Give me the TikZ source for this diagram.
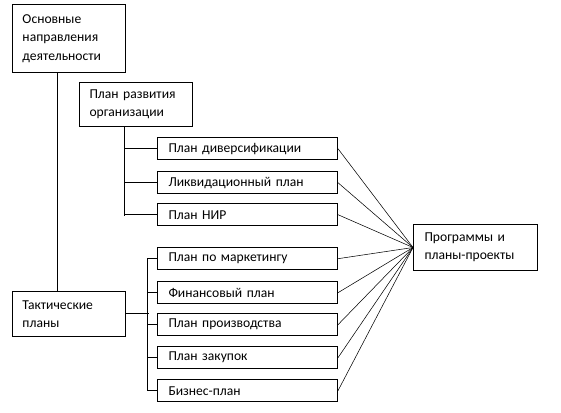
\documentclass[tikz,border=0pt]{standalone}
\usepackage{fontspec}
\setmainfont{Carlito}
\usepackage{tikz}

\tikzset{
	box/.style={draw, align=left, anchor=north west, inner xsep=8.25pt, inner ysep=0pt, font=\fontsize{10.2}{13.8}\selectfont},
	bigbox/.style={box, inner xsep=7.5pt, text width=69.5pt},
	planbox/.style={box, text width=118.5pt, minimum height=16.8pt},
	link/.style={line width=0.4pt}
}

\begin{document}
\begin{tikzpicture}[x=0.75pt,y=-0.75pt,line width=0.75pt]
	\useasboundingbox (0,0) rectangle (561,413);
	
	%MAIN BOXES
	\node[bigbox,minimum height=51pt] (osn) at (12,4) {Основные\\направления\\деятельности};
	\node[bigbox,minimum height=33pt] (razv) at (79,82) {План развития\\организации};
	\node[bigbox,minimum height=33.75pt] (takt) at (12,291) {Тактические\\планы};
	\node[box,text width=76.5pt,minimum height=34.5pt] (prog) at (413,224) {Программы и\\планы-проекты};
	
	%PLANS
	\node[planbox] (div) at (157,137)	{План диверсификации};
	\node[planbox] (likv) at (157,171)	{Ликвидационный план};
	\node[planbox] (nir) at (157,203)	{План НИР};
	\node[planbox] (mark) at (157,247)	{План по маркетингу};
	\node[planbox] (fin) at (157,281)	{Финансовый план};
	\node[planbox] (proizv) at (157,313)	{План производства};
	\node[planbox] (zak) at (157,346)	{План закупок};
	\node[planbox] (biz) at (157,379)	{Бизнес-план};
	
	%TREE LINES
	\draw ([xshift=33.75pt]osn.south west) -- ([xshift=33.75pt]takt.north west);	%trunk
	\draw ([xshift=33.75pt]razv.south west) -- ++(0,89);	%upper bar
	\foreach \n in {div,likv,nir}
		\draw (\n.west) -- ++(-33,0);
	\draw (takt.east) -- ++(23,0);
	\draw (mark.west) -- ++(-10,0) |- (biz.west);	%lower bar
	\foreach \n in {fin,proizv,zak}
		\draw (\n.west) -- ++(-10,0);
	
	%LINKS TO PROGRAMS
	\foreach \n in {div,likv,nir,mark,fin,proizv,zak,biz}
		\draw[link] (\n.east) -- (prog.west);
\end{tikzpicture}
\end{document}
